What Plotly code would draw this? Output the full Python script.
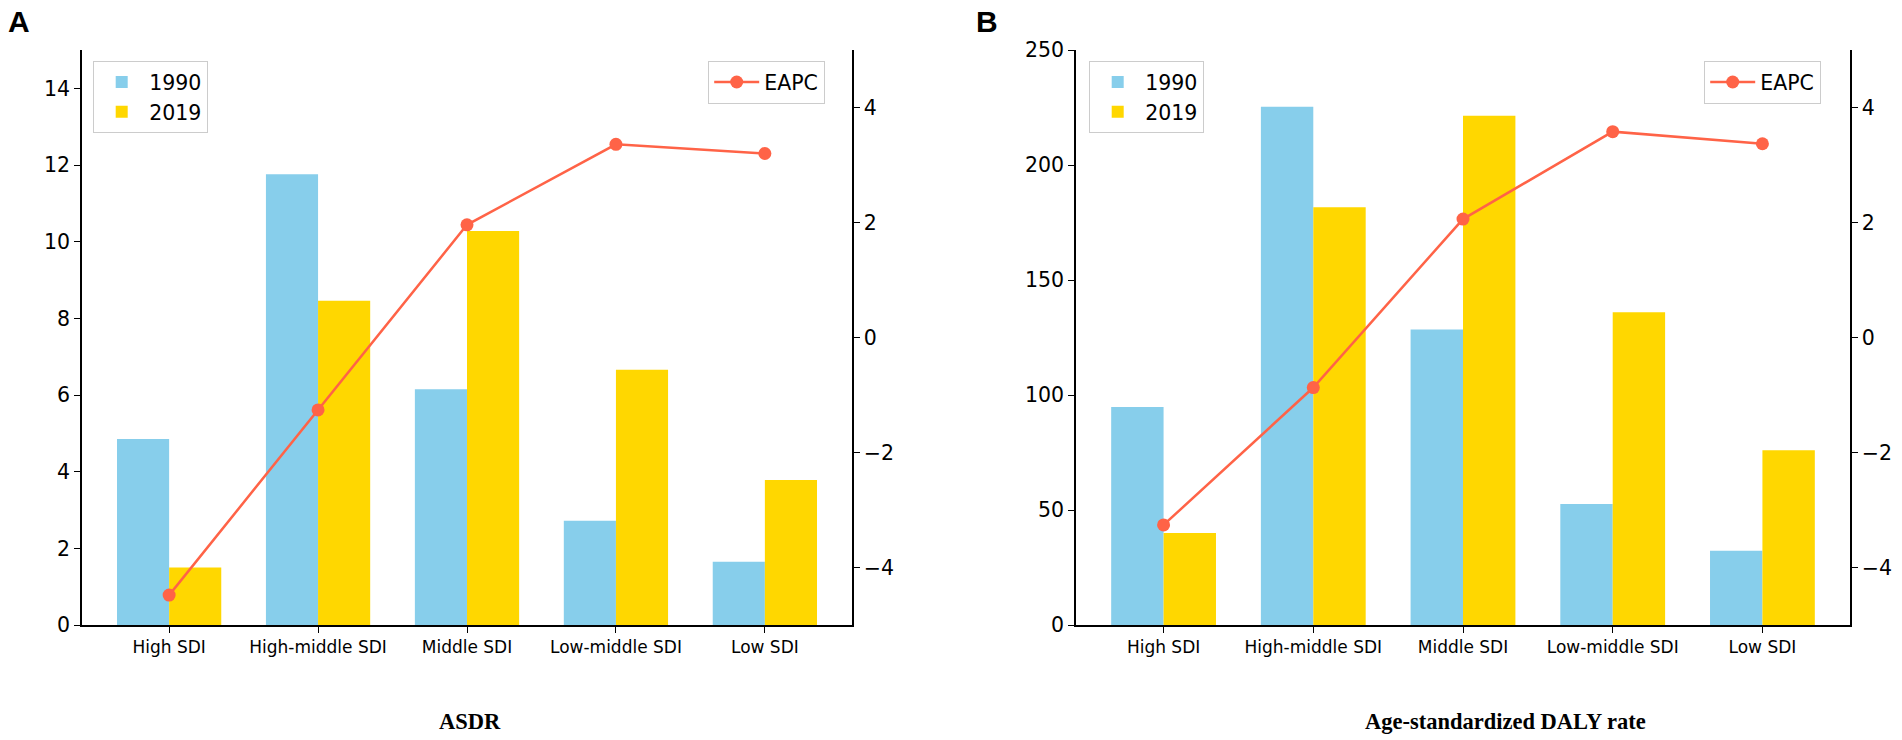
import plotly.graph_objects as go

categories = ["High SDI", "High-middle SDI", "Middle SDI", "Low-middle SDI", "Low SDI"]

asdr_1990 = [4.85, 11.76, 6.15, 2.72, 1.65]
asdr_2019 = [1.50, 8.46, 10.28, 6.66, 3.78]
asdr_eapc = [-4.48, -1.26, 1.96, 3.36, 3.20]

daly_1990 = [94.8, 225.3, 128.5, 52.6, 32.3]
daly_2019 = [40.0, 181.6, 221.4, 136.0, 76.0]
daly_eapc = [-3.26, -0.87, 2.06, 3.58, 3.37]

right_ticks = [-4, -2, 0, 2, 4]

C1990 = "#87CEEB"
C2019 = "#FFD700"
CEAPC = "#FF6347"
TICKFONT = dict(family="DejaVu Sans", size=20.5, color="black")
XTICKFONT = dict(family="DejaVu Sans", size=17, color="black")
LEGFONT = dict(family="DejaVu Sans", size=20.5, color="black")

fig = go.Figure()

def add_panel(v90, v19, eapc, xa, ya, ya2, leg_y, leg_e):
    fig.add_trace(go.Bar(x=categories, y=v90, name="1990", marker=dict(color=C1990, line=dict(width=0)),
                         xaxis=xa, yaxis=ya, legend=leg_y, offsetgroup="a"))
    fig.add_trace(go.Bar(x=categories, y=v19, name="2019", marker=dict(color=C2019, line=dict(width=0)),
                         xaxis=xa, yaxis=ya, legend=leg_y, offsetgroup="b"))
    fig.add_trace(go.Scatter(x=categories, y=eapc, name="EAPC", mode="lines+markers",
                             line=dict(color=CEAPC, width=2.5),
                             marker=dict(color=CEAPC, size=13),
                             xaxis=xa, yaxis=ya2, legend=leg_e))

add_panel(asdr_1990, asdr_2019, asdr_eapc, "x", "y", "y2", "legend", "legend2")
add_panel(daly_1990, daly_2019, daly_eapc, "x2", "y3", "y4", "legend3", "legend4")

ydom = [115 / 740, 690 / 740]
xdomA = [82 / 1902, 852 / 1902]
xdomB = [1076 / 1902, 1850 / 1902]

axis_common = dict(showline=True, linecolor="black", linewidth=1.5, ticks="outside",
                   ticklen=6, tickwidth=1.3, tickcolor="black", showgrid=False,
                   zeroline=False, automargin=False)

xcommon = dict(axis_common, type="category", range=[-0.585, 4.585], tickfont=XTICKFONT)

leg_common = dict(bgcolor="white", bordercolor="#cccccc", borderwidth=1.2,
                  font=LEGFONT, xanchor="left", yanchor="top", tracegroupgap=6,
                  itemwidth=45)

fig.update_layout(
    width=1902, height=740,
    margin=dict(l=0, r=0, t=0, b=0),
    paper_bgcolor="white", plot_bgcolor="white",
    barmode="group", bargap=0.3, bargroupgap=0,
    xaxis=dict(xcommon, domain=xdomA, anchor="y"),
    yaxis=dict(axis_common, domain=ydom, anchor="x", range=[0, 15], dtick=2, tickfont=TICKFONT),
    yaxis2=dict(axis_common, overlaying="y", side="right", anchor="x", range=[-5, 5],
                tickvals=right_ticks, tickfont=TICKFONT),
    xaxis2=dict(xcommon, domain=xdomB, anchor="y3"),
    yaxis3=dict(axis_common, domain=ydom, anchor="x2", range=[0, 250], dtick=50, tickfont=TICKFONT),
    yaxis4=dict(axis_common, overlaying="y3", side="right", anchor="x2", range=[-5, 5],
                tickvals=right_ticks, tickfont=TICKFONT),
    legend=dict(leg_common, x=93 / 1902, y=1 - 61 / 740),
    legend2=dict(leg_common, x=708 / 1902, y=1 - 61 / 740),
    legend3=dict(leg_common, x=1089 / 1902, y=1 - 61 / 740),
    legend4=dict(leg_common, x=1704 / 1902, y=1 - 61 / 740),
    showlegend=True,
)

ann = dict(xref="paper", yref="paper", showarrow=False, xanchor="center", yanchor="middle")
fig.add_annotation(ann, text="<b>A</b>", x=18.5 / 1902, y=1 - 21 / 740,
                   font=dict(family="Liberation Sans", size=30, color="black"))
fig.add_annotation(ann, text="<b>B</b>", x=987 / 1902, y=1 - 21 / 740,
                   font=dict(family="Liberation Sans", size=30, color="black"))
fig.add_annotation(ann, text="<b>ASDR</b>", x=470 / 1902, y=1 - 721 / 740,
                   font=dict(family="Liberation Serif", size=22.5, color="black"))
fig.add_annotation(ann, text="<b>Age-standardized DALY rate</b>", x=1505 / 1902, y=1 - 721 / 740,
                   font=dict(family="Liberation Serif", size=22.5, color="black"))

fig.write_html("out.html", config={"displayModeBar": False},
               post_script="document.body.style.margin='0';document.body.style.overflow='hidden';")
